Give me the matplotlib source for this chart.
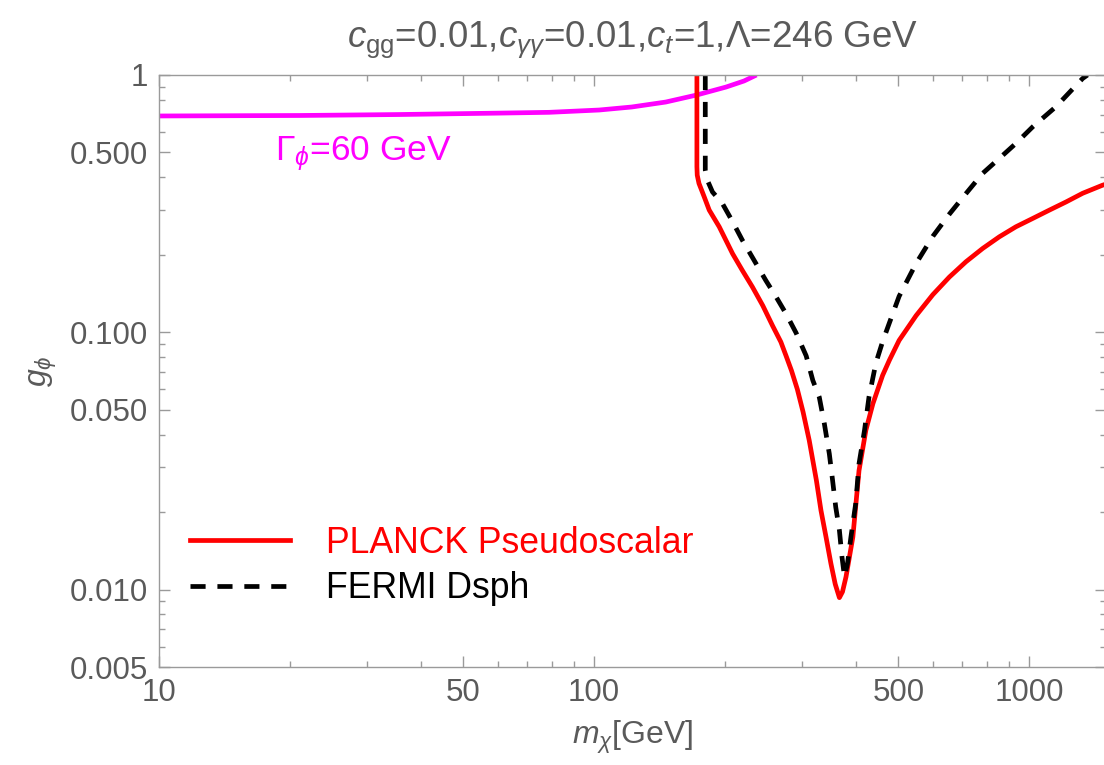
import matplotlib
matplotlib.use("Agg")
import matplotlib.pyplot as plt
from matplotlib.ticker import FixedLocator, FixedFormatter, NullFormatter

plt.rcParams['font.family'] = ['Liberation Sans', 'DejaVu Sans']
plt.rcParams['mathtext.fontset'] = 'custom'
plt.rcParams['mathtext.rm'] = 'Liberation Sans'
plt.rcParams['mathtext.it'] = 'Liberation Sans:italic'

GRAY = '#5a5a5a'
SPINE = '#9a9a9a'

# width contour Gamma_phi = 60 GeV
m_width = [10, 21, 35.6, 60.5, 78.8, 102.7, 122, 146, 172, 201, 221, 236]
g_width = [0.693, 0.696, 0.702, 0.711, 0.716, 0.731, 0.751, 0.785, 0.836, 0.898, 0.948, 1.0]

# PLANCK pseudoscalar bound
m_planck = [172.2, 172.2, 172.5, 174.1, 179, 183.8, 193.8, 208, 219, 231, 244, 257, 268.5,
            276, 284, 293, 302, 312, 324, 332, 341, 350, 358, 366, 372, 379, 393, 406, 421,
            437, 460, 477, 502, 549, 600, 655, 715, 781, 853, 931, 1018, 1112, 1214, 1326, 1473, 1520]
g_planck = [1.0, 0.44, 0.408, 0.379, 0.336, 0.2985, 0.257, 0.202, 0.174, 0.150, 0.127, 0.106, 0.0917,
            0.081, 0.071, 0.060, 0.049, 0.038, 0.0266, 0.0203, 0.016, 0.0126, 0.0105, 0.0093, 0.0098, 0.0112, 0.016, 0.029, 0.0416,
            0.0528, 0.068, 0.078, 0.093, 0.116, 0.1400, 0.164, 0.188, 0.2117, 0.235, 0.257, 0.277, 0.2985, 0.321, 0.347, 0.373, 0.379]

# FERMI dwarf spheroidal bound
m_fermi = [180, 180, 182, 187, 197, 208, 219, 233, 248, 262, 276, 291, 307, 318, 329, 338, 347,
           353, 359, 366, 371, 376, 382, 389, 399, 406, 418, 428, 444, 460, 477, 502, 549, 600,
           655, 715, 781, 853, 931, 1018, 1151, 1326, 1360]
g_fermi = [1.0, 0.427, 0.390, 0.351, 0.317, 0.269, 0.228, 0.1906, 0.159, 0.137, 0.118, 0.0995, 0.081, 0.065, 0.056, 0.0441, 0.0337,
           0.0266, 0.0209, 0.017, 0.0134, 0.0112, 0.0126, 0.016, 0.0216, 0.0308, 0.0416, 0.056, 0.076, 0.092, 0.109, 0.138, 0.185, 0.236,
           0.288, 0.346, 0.4146, 0.474, 0.542, 0.629, 0.753, 0.97, 1.0]

x_major = [10, 50, 100, 500, 1000]
x_major_labels = ['10', '50', '100', '500', '1000']
x_minor = [20, 30, 40, 60, 70, 80, 90, 200, 300, 400, 600, 700, 800, 900]
y_major = [0.005, 0.01, 0.05, 0.1, 0.5, 1]
y_major_labels = ['0.005', '0.010', '0.050', '0.100', '0.500', '1']
y_minor = [0.006, 0.007, 0.008, 0.009, 0.02, 0.03, 0.04, 0.06, 0.07, 0.08, 0.09,
           0.2, 0.3, 0.4, 0.6, 0.7, 0.8, 0.9]

fig = plt.figure(figsize=(11.04, 7.65), dpi=100)
ax = fig.add_axes([159 / 1104, 1 - 667 / 765, (1106 - 159) / 1104, 592 / 765])
ax.set_xscale('log')
ax.set_yscale('log')
ax.set_xlim(10, 1500)
ax.set_ylim(0.005, 1)

LW = 3.4
ax.plot(m_width, g_width, color='#ff00ff', lw=LW, solid_capstyle='butt')
ax.plot(m_planck, g_planck, color='#ff0000', lw=LW, label='PLANCK Pseudoscalar')
ax.plot(m_fermi, g_fermi, color='black', lw=LW, linestyle=(0, (3.2, 2.5)), label='FERMI Dsph')

ax.text(275 / 1104, 1 - 160 / 765, r'$\Gamma_{\phi}$=60 GeV', transform=fig.transFigure,
        color='#ff00ff', fontsize=25.5, ha='left', va='baseline')

ax.xaxis.set_major_locator(FixedLocator(x_major))
ax.xaxis.set_major_formatter(FixedFormatter(x_major_labels))
ax.xaxis.set_minor_locator(FixedLocator(x_minor))
ax.xaxis.set_minor_formatter(NullFormatter())
ax.yaxis.set_major_locator(FixedLocator(y_major))
ax.yaxis.set_major_formatter(FixedFormatter(y_major_labels))
ax.yaxis.set_minor_locator(FixedLocator(y_minor))
ax.yaxis.set_minor_formatter(NullFormatter())

ax.tick_params(which='both', direction='in', top=True, right=True, color=SPINE,
               labelcolor=GRAY, labelsize=22.5, pad=8)
ax.tick_params(which='major', length=8, width=1)
ax.tick_params(which='minor', length=4, width=1)
for s in ax.spines.values():
    s.set_color(SPINE)
    s.set_linewidth(1)

ax.set_title(r'$c_{\mathrm{gg}}$=0.01,$c_{\gamma\gamma}$=0.01,$c_t$=1,Λ=246 GeV',
             color=GRAY, fontsize=26.5, pad=20)
ax.set_xlabel(r'$m_{\chi}$[GeV]', color=GRAY, fontsize=23, labelpad=8)
ax.set_ylabel(r'$g_{\phi}$', color=GRAY, fontsize=23, labelpad=8)

leg = ax.legend(loc='center left', bbox_to_anchor=(0.0327, 0.1706), frameon=False,
                fontsize=25.7, handlelength=2.8, handletextpad=1.0, labelspacing=0.3,
                borderpad=0, borderaxespad=0)
leg.get_texts()[0].set_color('#ff0000')

fig.savefig('out.png', dpi=100)
